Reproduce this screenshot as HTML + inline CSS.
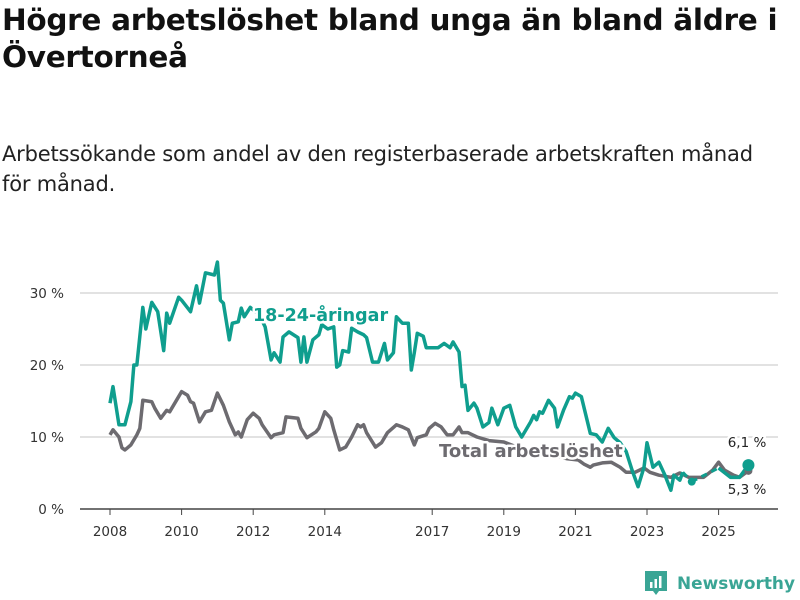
<!DOCTYPE html>
<html><head><meta charset="utf-8">
<style>
body{margin:0;background:#fff;width:800px;height:600px;overflow:hidden;font-family:"DejaVu Sans",sans-serif;}
#title{position:absolute;left:2px;top:2px;font-family:"DejaVu Sans",sans-serif;font-size:29.5px;font-weight:bold;line-height:37px;color:#111;margin:0;width:798px;letter-spacing:-0.3px;}
#sub{position:absolute;left:2px;top:139px;font-family:"DejaVu Sans",sans-serif;font-size:21px;line-height:30px;color:#222;margin:0;width:770px;letter-spacing:-0.2px;}
svg{position:absolute;left:0;top:0;}
</style></head>
<body>
<h1 id="title">Högre arbetslöshet bland unga än bland äldre i Övertorneå</h1>
<p id="sub">Arbetssökande som andel av den registerbaserade arbetskraften månad för månad.</p>
<svg id="chart" width="800" height="600"></svg>
<script>
const yTicks=[0,10,20,30];
const yTickLabels=["0 %","10 %","20 %","30 %"];
const xTicks=[2008,2010,2012,2014,2017,2019,2021,2023,2025];
const youthMonths=[0,1,3,5,7,8,9,11,12,14,16,18,19,20,23,24,27,29,30,32,35,36,37,38,40,41,43,44,45,47,50,52,54,55,57,58,60,63,64,65,66,68,70,71,73,75,76,77,78,80,81,83,85,86,88,90,92,93,95,96,98,100,101,102,103,105,106,108,110,112,114,115,117,118,119,120,122,123,125,127,128,130,132,134,136,138,141,142,143,144,145,147,149,150,152,154,155,156,158,161,163,165,167,169,171,173,175,177,179,180,182,184,186,188,189,191,192,193,195,200,204,208,211,214];
const youthValues=[14.7,17,11.7,11.7,14.9,20,20,28,25,28.7,27.4,22,27.2,25.8,29.4,29,27.4,31,28.6,32.8,32.5,34.3,29,28.6,23.5,25.8,26,27.9,26.7,28,27,25.3,20.7,21.7,20.4,23.9,24.6,23.8,20.4,23.9,20.4,23.5,24.2,25.6,25,25.3,19.7,20,22,21.8,25.1,24.6,24.2,23.8,20.4,20.4,23,20.7,21.7,26.7,25.8,25.8,19.3,21.7,24.4,24,22.4,22.4,22.4,23,22.4,23.2,21.8,17,17.2,13.7,14.7,14,11.4,12,14,11.7,14,14.4,11.4,10,12.1,13,12.4,13.5,13.3,15.1,14,11.4,13.7,15.6,15.4,16.1,15.6,10.5,10.3,9.3,11.2,9.9,9.2,8,5.4,3.1,5.8,9.2,5.8,6.5,4.7,2.6,4.7,4,5.1,null,3.8,null,5.7,4.4,4.4,6.1];
const totalMonths=[0,1,3,4,5,7,9,10,11,14,15,17,19,20,23,24,26,27,28,30,32,34,36,38,40,42,43,44,46,48,50,51,54,55,58,59,63,64,66,69,70,72,74,75,77,79,81,83,84,85,86,89,91,93,96,98,100,102,103,106,107,109,111,113,115,117,118,120,123,127,132,137,142,148,153,157,159,161,162,165,168,171,173,176,179,181,184,188,191,194,199,202,204,206,209,211,214];
const totalValues=[10.3,11,10,8.5,8.2,8.9,10.3,11.2,15.1,14.9,14,12.6,13.7,13.5,15.6,16.3,15.8,14.9,14.7,12.1,13.5,13.7,16.1,14.4,12.1,10.3,10.7,10,12.4,13.3,12.6,11.7,9.9,10.3,10.6,12.8,12.6,11.2,9.9,10.7,11.2,13.5,12.6,11,8.2,8.6,10,11.7,11.4,11.7,10.6,8.6,9.2,10.6,11.7,11.4,11,8.9,9.9,10.3,11.2,11.9,11.4,10.3,10.3,11.4,10.6,10.6,10,9.5,9.3,8.5,8.2,7.5,7,6.8,6.2,5.8,6.1,6.4,6.5,5.8,5.1,5.1,5.7,5.1,4.7,4.4,5,4.4,4.4,5.4,6.5,5.4,4.7,4.4,5.3];

const NS="http://www.w3.org/2000/svg";
const FF='DejaVu Sans, sans-serif';
const svg=document.getElementById('chart');
const X=yr=>110+(yr-2008)*35.8;
const Y=v=>509-v*7.2;
const mx=m=>X(2008+m/12);
function mk(tag,attrs,parent){const e=document.createElementNS(NS,tag);for(const k in attrs)e.setAttribute(k,attrs[k]);(parent||svg).appendChild(e);return e;}

yTicks.forEach((t,i)=>{
  if(t>0){const g=mk('line',{x1:80,x2:778,y1:Y(t),y2:Y(t),stroke:'#d9d9d9','stroke-width':1.5});
  
  }
  const tx=mk('text',{x:64,y:Y(t)+5,'text-anchor':'end','font-size':13.5,fill:'#333','font-family':FF});
  tx.textContent=yTickLabels[i];
  
  
});
const ax=mk('line',{x1:80,x2:778,y1:509,y2:509,stroke:'#444','stroke-width':1.5});


xTicks.forEach(t=>{
  const tk=mk('line',{x1:X(t),x2:X(t),y1:509,y2:515,stroke:'#444','stroke-width':1});
  
  
  const tx=mk('text',{x:X(t),y:536,'text-anchor':'middle','font-size':13.5,fill:'#333','font-family':FF});
  tx.textContent=t;
  
  
});

function drawSeries(months,vals,color,name){
  const g=mk('g',{});
  
  
  let segs=[],cur=[];
  months.forEach((m,i)=>{if(vals[i]===null){if(cur.length)segs.push(cur);cur=[];}else cur.push([mx(m),Y(vals[i])]);});
  if(cur.length)segs.push(cur);
  for(let i=0;i<segs.length-1;i++){
    const a=segs[i][segs[i].length-1],b=segs[i+1][0];
    const d=mk('line',{x1:a[0],y1:a[1],x2:b[0],y2:b[1],stroke:color,'stroke-width':3,'stroke-dasharray':'6 5'},g);
    
    
  }
  segs.forEach(s=>{
    if(s.length===1){const c=mk('circle',{cx:s[0][0],cy:s[0][1],r:4,fill:color},g);
      
      }
    else{const p=mk('polyline',{points:s.map(q=>q.join(',')).join(' '),fill:'none',stroke:color,'stroke-width':3.5,'stroke-linejoin':'round'},g);
      
      }
  });
  return g;
}
drawSeries(totalMonths,totalValues,'#6d6b70','total-line');
drawSeries(youthMonths,youthValues,'#0f9e8e','youth-line');

function label(txt,x,y,color,name,size,weight,anchor){
  const t=mk('text',{x:x,y:y,fill:color,'font-size':size,'font-weight':weight,'text-anchor':anchor||'start',stroke:'#fff','stroke-width':5,'paint-order':'stroke','stroke-linejoin':'round','font-family':FF});
  t.textContent=txt;
  
  
}
label('18-24-åringar',253,321,'#0f9e8e','youth-series-label',17.5,'bold');
label('Total arbetslöshet',439,457,'#6d6b70','total-series-label',18,'bold');

const lm=youthMonths[youthMonths.length-1], lv=youthValues[youthValues.length-1];
const tm=totalMonths[totalMonths.length-1], tv=totalValues[totalValues.length-1];
const e1=mk('circle',{cx:mx(tm),cy:Y(tv),r:4,fill:'#6d6b70'});


const e2=mk('circle',{cx:mx(lm),cy:Y(lv),r:6,fill:'#0f9e8e'});


label(lv.toFixed(1).replace('.',',')+' %',747,447,'#222','youth-end-label',13.5,'normal','middle');
label(tv.toFixed(1).replace('.',',')+' %',747,494,'#222','total-end-label',13.5,'normal','middle');

const lg=mk('g',{});


mk('path',{d:'M645 571 h22 v20 h-8 l-3 4 l-3 -4 h-8 z',fill:'#3aa595'},lg);
mk('rect',{x:650,y:582,width:2.5,height:6,fill:'#fff'},lg);
mk('rect',{x:654.5,y:579,width:2.5,height:9,fill:'#fff'},lg);
mk('rect',{x:659,y:576,width:2.5,height:12,fill:'#fff'},lg);
const lt=mk('text',{x:677,y:589,fill:'#3aa595','font-size':17,'font-weight':'bold','font-family':FF,textLength:118,lengthAdjust:'spacingAndGlyphs'},lg);
lt.textContent='Newsworthy';
</script>
</body></html>
